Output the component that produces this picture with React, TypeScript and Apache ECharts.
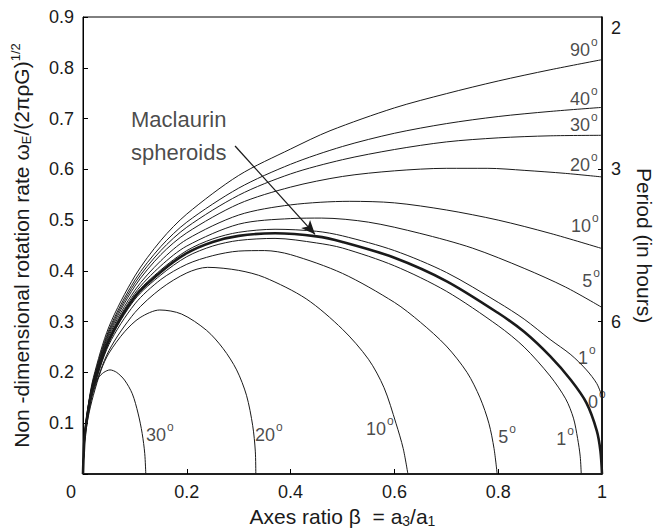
import React, { useEffect, useRef } from "react";
import * as echarts from "echarts";

// ---- Data: [beta, omega] pairs ----
// Upper-limit curves (maximum spin) for several friction angles
const upper90: number[][] = [[0,0],[0.003,0.077],[0.01,0.135],[0.02,0.19],[0.05,0.29],[0.1,0.39],[0.15,0.46],[0.2,0.512],[0.3,0.588],[0.4,0.64],[0.476,0.676],[0.6,0.721],[0.7,0.749],[0.8,0.774],[0.9,0.796],[1,0.816]];
const upper40: number[][] = [[0,0],[0.003,0.076],[0.01,0.133],[0.02,0.186],[0.05,0.284],[0.1,0.382],[0.15,0.448],[0.2,0.496],[0.3,0.563],[0.4,0.61],[0.5,0.645],[0.6,0.671],[0.7,0.69],[0.8,0.704],[0.9,0.714],[1,0.722]];
const upper30: number[][] = [[0,0],[0.003,0.075],[0.01,0.132],[0.02,0.184],[0.05,0.28],[0.1,0.376],[0.15,0.44],[0.2,0.486],[0.3,0.549],[0.4,0.591],[0.5,0.619],[0.6,0.639],[0.7,0.654],[0.8,0.662],[0.9,0.666],[1,0.667]];
const upper20: number[][] = [[0,0],[0.003,0.074],[0.01,0.13],[0.02,0.182],[0.05,0.276],[0.1,0.37],[0.15,0.432],[0.2,0.475],[0.3,0.532],[0.4,0.565],[0.5,0.586],[0.6,0.597],[0.7,0.602],[0.78,0.602],[0.85,0.598],[0.93,0.592],[1,0.585]];
const upper10: number[][] = [[0,0],[0.003,0.073],[0.01,0.128],[0.02,0.179],[0.05,0.272],[0.1,0.362],[0.15,0.42],[0.2,0.462],[0.3,0.51],[0.4,0.53],[0.514,0.537],[0.6,0.534],[0.7,0.52],[0.8,0.5],[0.9,0.474],[1,0.444]];
const upper5: number[][] = [[0,0],[0.003,0.072],[0.01,0.127],[0.02,0.177],[0.05,0.268],[0.1,0.356],[0.15,0.41],[0.2,0.449],[0.3,0.492],[0.4,0.503],[0.46,0.504],[0.55,0.496],[0.649,0.474],[0.75,0.445],[0.85,0.405],[0.93,0.368],[1,0.328]];
const upper1: number[][] = [[0,0],[0.003,0.071],[0.01,0.126],[0.02,0.175],[0.05,0.265],[0.1,0.352],[0.15,0.402],[0.2,0.44],[0.25,0.463],[0.3,0.476],[0.37,0.482],[0.45,0.478],[0.5,0.469],[0.6,0.44],[0.7,0.397],[0.8,0.338],[0.85,0.305],[0.9,0.265],[0.94,0.235],[0.97,0.205],[0.99,0.178],[1,0.153]];
// Maclaurin spheroids (0 degrees), bold
const maclaurin: number[][] = [[0,0],[0.003,0.07],[0.01,0.125],[0.02,0.173],[0.05,0.263],[0.1,0.349],[0.15,0.398],[0.2,0.435],[0.25,0.457],[0.3,0.469],[0.37,0.474],[0.45,0.468],[0.5,0.457],[0.6,0.426],[0.7,0.38],[0.8,0.317],[0.85,0.28],[0.9,0.232],[0.94,0.185],[0.97,0.14],[0.99,0.085],[0.997,0.045],[1,0]];
// Lower-limit curves (minimum spin)
const lower1: number[][] = [[0,0],[0.003,0.069],[0.01,0.123],[0.02,0.17],[0.05,0.26],[0.1,0.344],[0.15,0.392],[0.2,0.428],[0.25,0.449],[0.3,0.46],[0.37,0.464],[0.45,0.455],[0.5,0.445],[0.6,0.41],[0.7,0.36],[0.8,0.292],[0.85,0.25],[0.9,0.193],[0.93,0.148],[0.945,0.11],[0.953,0.07],[0.958,0.035],[0.96,0]];
const lower5: number[][] = [[0,0],[0.003,0.068],[0.01,0.12],[0.02,0.167],[0.05,0.255],[0.1,0.335],[0.15,0.383],[0.2,0.413],[0.25,0.43],[0.3,0.439],[0.35,0.44],[0.4,0.432],[0.5,0.395],[0.6,0.338],[0.65,0.299],[0.7,0.252],[0.74,0.2],[0.765,0.15],[0.782,0.1],[0.792,0.05],[0.798,0]];
const lower10: number[][] = [[0,0],[0.003,0.066],[0.01,0.117],[0.02,0.162],[0.05,0.243],[0.1,0.318],[0.15,0.365],[0.2,0.396],[0.24,0.407],[0.3,0.401],[0.35,0.387],[0.43,0.345],[0.5,0.285],[0.55,0.226],[0.58,0.17],[0.603,0.1],[0.617,0.05],[0.626,0]];
const lower20: number[][] = [[0,0],[0.003,0.062],[0.01,0.112],[0.02,0.155],[0.035,0.205],[0.05,0.238],[0.08,0.28],[0.11,0.308],[0.148,0.323],[0.19,0.315],[0.238,0.283],[0.27,0.247],[0.296,0.205],[0.315,0.155],[0.327,0.095],[0.332,0.045],[0.333,0]];
const lower30: number[][] = [[0,0],[0.002,0.05],[0.006,0.1],[0.012,0.14],[0.02,0.17],[0.03,0.19],[0.04,0.2],[0.052,0.205],[0.065,0.2],[0.08,0.185],[0.095,0.158],[0.106,0.12],[0.114,0.08],[0.119,0.04],[0.121,0]];

const thinCurves = [upper90, upper40, upper30, upper20, upper10, upper5, upper1, lower1, lower5, lower10, lower20, lower30];

// Curve angle labels (degrees) and their anchor positions in data units
const angleLabels = ["90", "40", "30", "20", "10", "5", "1", "0", "1", "5", "10", "20", "30"];
const angleLabelBeta = [0.965, 0.965, 0.965, 0.965, 0.967, 0.979, 0.971, 0.99, 0.929, 0.817, 0.572, 0.358, 0.148];
const angleLabelOmega = [0.835, 0.738, 0.687, 0.608, 0.488, 0.38, 0.228, 0.142, 0.069, 0.073, 0.089, 0.077, 0.077];

// Annotation "Maclaurin spheroids" with arrow
const noteText = "Maclaurin\nspheroids";
const notePos = [0.0925, 0.665];
const arrowFrom = [0.293, 0.646];
const arrowTo = [0.447, 0.472];

// Axis ticks
const xTicks = [0, 0.2, 0.4, 0.6, 0.8, 1];
const periodHours = [2, 3, 6];
const omegaPerInvHour = 1.8; // omega = 1.8 / period

const FONT = "'Liberation Sans', Arial, Helvetica, sans-serif";
const INK = "#1a1a1a";

export default function App() {
  const ref = useRef<HTMLDivElement>(null);

  useEffect(() => {
    if (!ref.current) return;
    const chart = echarts.init(ref.current, undefined, { renderer: "svg" });

    const periodPos = periodHours.map((h) => omegaPerInvHour / h);

    const lineSeries: any[] = thinCurves.map((c) => ({
      type: "line",
      data: c,
      showSymbol: false,
      smooth: 0.3,
      silent: true,
      lineStyle: { color: INK, width: 1 },
      z: 2,
    }));

    lineSeries.push({
      type: "line",
      data: maclaurin,
      showSymbol: false,
      smooth: 0.3,
      silent: true,
      lineStyle: { color: INK, width: 2.6 },
      z: 3,
      markLine: {
        silent: true,
        symbol: ["none", "arrow"],
        symbolSize: [9, 14],
        label: { show: false },
        lineStyle: { color: INK, width: 1.3, type: "solid" },
        data: [[{ coord: arrowFrom }, { coord: arrowTo }]],
      },
    });

    lineSeries.push({
      type: "scatter",
      symbolSize: 0,
      silent: true,
      z: 5,
      data: angleLabels.map((t, i) => ({
        value: [angleLabelBeta[i], angleLabelOmega[i]],
        label: { formatter: "{n|" + t + "}{s|o}" },
      })),
      label: {
        show: true,
        position: "inside",
        color: INK,
        fontFamily: FONT,
        rich: {
          n: { fontSize: 18, lineHeight: 28, fontFamily: FONT, color: INK },
          s: { fontSize: 12, lineHeight: 12, verticalAlign: "top", fontFamily: FONT, color: INK, padding: [0, 0, 0, 1] },
        },
      },
    });

    lineSeries.push({
      type: "scatter",
      symbolSize: 0,
      silent: true,
      z: 5,
      data: [{ value: notePos }],
      label: {
        show: true,
        position: "inside",
        align: "left",
        verticalAlign: "middle",
        formatter: noteText,
        fontSize: 22,
        lineHeight: 33,
        color: INK,
        fontFamily: FONT,
      },
    });

    chart.setOption({
      animation: false,
      textStyle: { fontFamily: FONT },
      grid: {
        left: 83,
        right: 54,
        top: 17,
        bottom: 55,
        show: true,
        borderColor: "#000",
        borderWidth: 1,
        containLabel: false,
        outerBoundsMode: "none",
      },
      xAxis: {
        type: "value",
        min: 0,
        max: 1,
        interval: 0.2,
        splitLine: { show: false },
        axisLine: { show: true, lineStyle: { color: "#000", width: 1.6 } },
        axisTick: { show: true, inside: true, length: 5, lineStyle: { color: "#000", width: 1 } },
        axisLabel: {
          fontSize: 18,
          color: INK,
          margin: 9,
          customValues: xTicks,
          formatter: (v: number) => (v === 0 ? "{z|0}" : v === 1 ? "1" : v.toFixed(1)),
          rich: { z: { fontSize: 18, color: INK, fontFamily: FONT, padding: [0, 24, 0, 0] } },
        },
        name: "Axes ratio β  = a{sub|3}/a{sub|1}",
        nameLocation: "middle",
        nameGap: 27,
        nameTextStyle: {
          fontSize: 21,
          color: INK,
          lineHeight: 22,
          rich: { sub: { fontSize: 14, lineHeight: 13, verticalAlign: "bottom", color: INK, fontFamily: FONT } },
        },
      },
      yAxis: [
        {
          type: "value",
          min: 0,
          max: 0.9,
          interval: 0.1,
          splitLine: { show: false },
          axisLine: { show: true, lineStyle: { color: "#000", width: 1 } },
          axisTick: { show: true, inside: true, length: 5, lineStyle: { color: "#000", width: 1 } },
          axisLabel: {
            fontSize: 18,
            color: INK,
            margin: 9,
            formatter: (v: number) => (v === 0 ? "" : v.toFixed(1)),
          },
          name: "Non -dimensional rotation rate ω{sub|E}/(2πρG){sup|1/2}",
          nameLocation: "middle",
          nameRotate: 90,
          nameGap: 50,
          nameTextStyle: {
            fontSize: 21,
            color: INK,
            lineHeight: 24,
            rich: {
              sub: { fontSize: 13, lineHeight: 12, verticalAlign: "bottom", color: INK, fontFamily: FONT },
              sup: { fontSize: 13, lineHeight: 12, verticalAlign: "top", color: INK, fontFamily: FONT },
            },
          },
        },
        {
          type: "value",
          position: "right",
          min: 0,
          max: 0.9,
          splitLine: { show: false },
          axisLine: { show: true, lineStyle: { color: "#000", width: 1.6 } },
          axisTick: {
            show: true,
            inside: true,
            length: 4,
            customValues: periodPos.filter((p) => p < 0.9),
            lineStyle: { color: "#000", width: 1 },
          },
          axisLabel: {
            fontSize: 18,
            color: INK,
            margin: 9,
            customValues: periodPos,
            formatter: (v: number) => {
              const h = Math.round(omegaPerInvHour / v);
              return h === 2 ? "{d|2}" : String(h);
            },
            rich: { d: { fontSize: 18, color: INK, fontFamily: FONT, padding: [22, 0, 0, 0] } },
          },
          name: "Period (in hours)",
          nameLocation: "middle",
          nameRotate: -90,
          nameGap: 32,
          nameTextStyle: { fontSize: 21, color: INK },
        },
      ],
      series: lineSeries,
    });

    return () => chart.dispose();
  }, []);

  return <div ref={ref} style={{ position: "absolute", left: 0, top: 0, width: 656, height: 529 }} />;
}
